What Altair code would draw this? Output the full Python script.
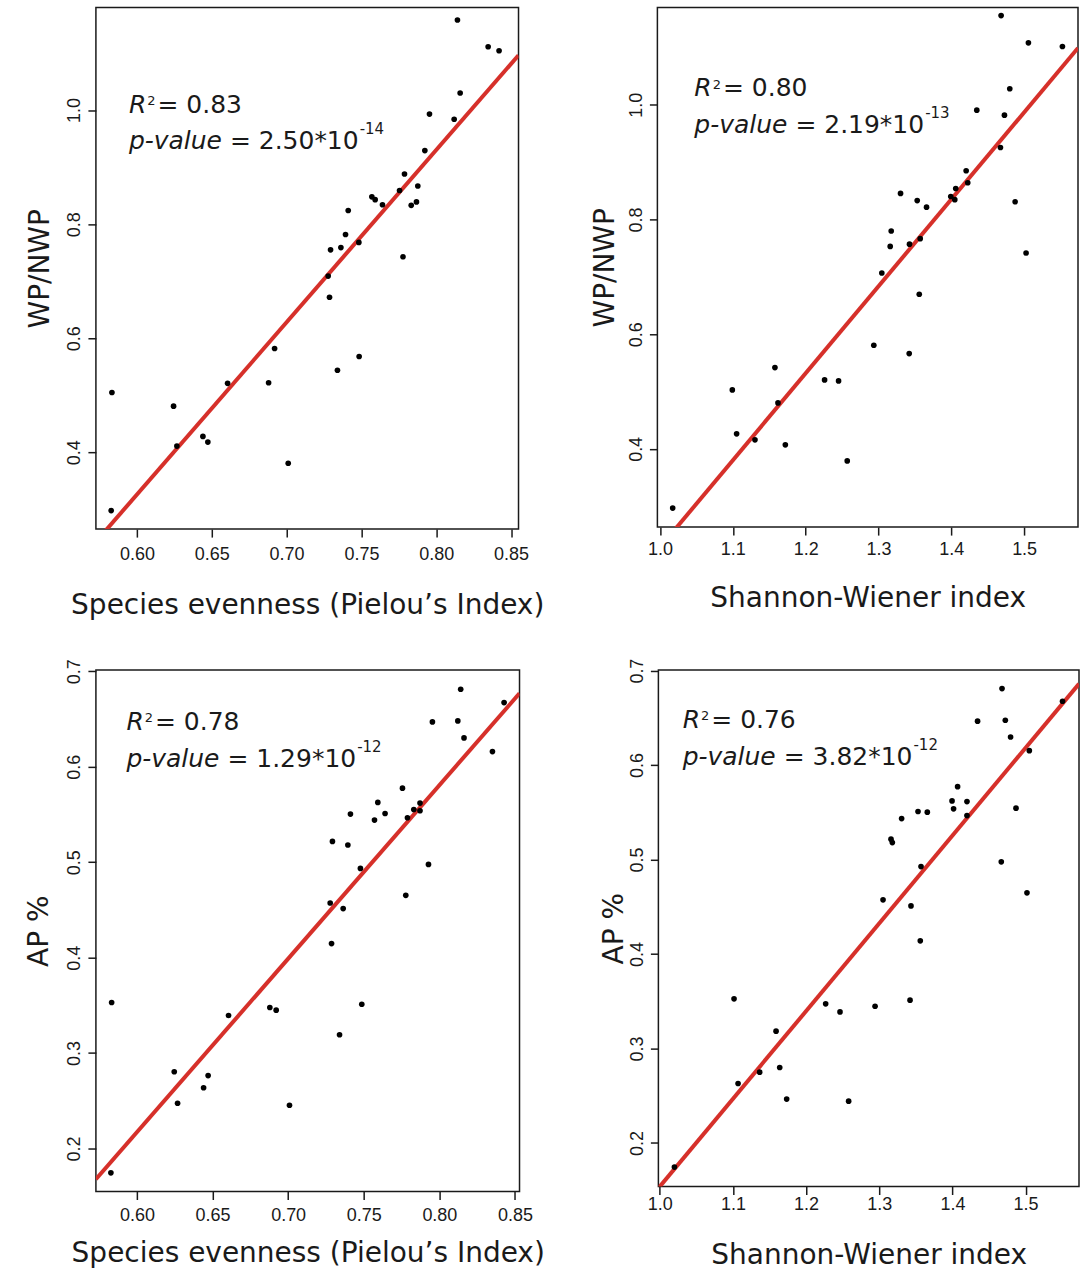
import altair as alt
import pandas as pd

# ---------------- data ----------------
# Top-left: WP/NWP vs Pielou evenness
tl_x = [0.8142, 0.8347, 0.842, 0.816, 0.7955, 0.812, 0.7924, 0.7788, 0.7877, 0.7755,
        0.757, 0.7592, 0.7641, 0.7833, 0.7868, 0.7412, 0.7394, 0.7363, 0.7294, 0.7483,
        0.7778, 0.7278, 0.7287, 0.692, 0.7485, 0.734, 0.6606, 0.688, 0.5833, 0.6245,
        0.6441, 0.6474, 0.6267, 0.7011, 0.5828]
tl_y = [1.158, 1.111, 1.104, 1.030, 0.993, 0.984, 0.929, 0.888, 0.867, 0.859,
        0.848, 0.843, 0.834, 0.833, 0.839, 0.824, 0.782, 0.759, 0.755, 0.768,
        0.743, 0.709, 0.672, 0.582, 0.568, 0.544, 0.521, 0.522, 0.505, 0.481,
        0.428, 0.418, 0.411, 0.381, 0.298]

# Top-right: WP/NWP vs Shannon-Wiener
tr_x = [1.4684, 1.5059, 1.5526, 1.4803, 1.435, 1.473, 1.4675, 1.4204, 1.4226, 1.4061,
        1.3993, 1.4048, 1.3303, 1.3532, 1.366, 1.4877, 1.3175, 1.3161, 1.3426, 1.3573,
        1.5027, 1.3046, 1.356, 1.2936, 1.3422, 1.1578, 1.226, 1.2452, 1.0993, 1.162,
        1.1052, 1.1304, 1.1721, 1.2571, 1.0174]
tr_y = [1.1556, 1.108, 1.1016, 1.0279, 0.9906, 0.9819, 0.9256, 0.885, 0.864, 0.854,
        0.840, 0.8345, 0.8455, 0.833, 0.8215, 0.831, 0.780, 0.753, 0.757, 0.7665,
        0.7415, 0.7066, 0.6696, 0.5807, 0.5662, 0.5418, 0.5202, 0.5185, 0.5028, 0.4802,
        0.4262, 0.4157, 0.407, 0.379, 0.2967]

# Bottom-left: AP % vs Pielou evenness
bl_x = [0.8141, 0.8428, 0.7954, 0.8122, 0.8163, 0.8351, 0.7756, 0.7593, 0.7872, 0.7831,
        0.7872, 0.7641, 0.7571, 0.7789, 0.7412, 0.7293, 0.7395, 0.7478, 0.7928, 0.7778,
        0.7278, 0.7364, 0.7287, 0.5833, 0.7487, 0.6606, 0.6879, 0.6921, 0.734, 0.6247,
        0.6471, 0.6441, 0.6269, 0.7009, 0.5828]
bl_y = [0.6812, 0.6672, 0.647, 0.648, 0.6302, 0.6159, 0.5776, 0.5626, 0.5619, 0.5552,
        0.5539, 0.551, 0.5441, 0.5466, 0.5504, 0.5218, 0.518, 0.4935, 0.4977, 0.4653,
        0.4573, 0.4514, 0.4147, 0.353, 0.3512, 0.3394, 0.3478, 0.345, 0.3192, 0.2805,
        0.2764, 0.2637, 0.2474, 0.2453, 0.1745]

# Bottom-right: AP % vs Shannon-Wiener
br_x = [1.4678, 1.5505, 1.4344, 1.4723, 1.4795, 1.5051, 1.4071, 1.3995, 1.4199, 1.4016,
        1.4199, 1.4869, 1.353, 1.3657, 1.3306, 1.3161, 1.3179, 1.3571, 1.4668, 1.3052,
        1.3434, 1.5019, 1.3561, 1.1016, 1.2268, 1.2464, 1.2943, 1.3421, 1.159, 1.164,
        1.1366, 1.1071, 1.1735, 1.2582, 1.0201]
br_y = [0.681, 0.6676, 0.6465, 0.6475, 0.6298, 0.6153, 0.5772, 0.5621, 0.5614, 0.5537,
        0.5466, 0.5544, 0.5509, 0.5502, 0.5434, 0.5216, 0.518, 0.4926, 0.4976, 0.4574,
        0.451, 0.4648, 0.414, 0.3526, 0.3473, 0.3388, 0.3448, 0.3512, 0.3184, 0.2799,
        0.275, 0.263, 0.2465, 0.2443, 0.1745]

# Statistics text
r2_vals = ["0.83", "0.80", "0.78", "0.76"]
p_mant = ["2.50", "2.19", "1.29", "3.82"]
p_exp = ["-14", "-13", "-12", "-12"]

# Axis ticks / titles
pielou_ticks = [0.60, 0.65, 0.70, 0.75, 0.80, 0.85]
shannon_ticks = [1.0, 1.1, 1.2, 1.3, 1.4, 1.5]
wp_ticks = [0.4, 0.6, 0.8, 1.0]
ap_ticks = [0.2, 0.3, 0.4, 0.5, 0.6, 0.7]
x_title_p = "Species evenness (Pielou\u2019s Index)"
x_title_s = "Shannon-Wiener index"
y_title_wp = "WP/NWP"
y_title_ap = "AP %"

# ---------------- styling ----------------
TICK_FONT = "Liberation Sans"
TEXT_FONT = "DejaVu Sans"
RED = "#d6302a"
INK = "#1a1a1a"
F_ANN = 25

W = {c: 0.636 for c in "0123456789"}
W.update({".": 0.318, "*": 0.5, "=": 0.838, " ": 0.318, "-": 0.361, "R": 0.695,
          "p": 0.635, "v": 0.592, "a": 0.613, "l": 0.278, "u": 0.634, "e": 0.615})


def tw(s, size):
    return sum(W.get(c, 0.6) for c in s) * size


def txt(s, x, y, size, italic=False):
    return alt.Chart(pd.DataFrame({"t": [s]})).mark_text(
        align="left", baseline="alphabetic", font=TEXT_FONT, fontSize=size,
        fontStyle="italic" if italic else "normal", color=INK
    ).encode(text="t:N", x=alt.value(x), y=alt.value(y))


def panel(xs, ys, xdom, ydom, xticks, yticks, xfmt, xtitle, ytitle, w, h,
          ann, r2, pm, pe, xlp, xtp, ytp):
    df = pd.DataFrame({"x": xs, "y": ys})
    xsc = alt.Scale(domain=xdom, nice=False, zero=False)
    ysc = alt.Scale(domain=ydom, nice=False, zero=False)
    xax = alt.Axis(values=xticks, format=xfmt, title=xtitle, labelAngle=0,
                   labelPadding=xlp, titlePadding=xtp)
    yax = alt.Axis(values=yticks, format=".1f", title=ytitle, labelAngle=-90,
                   labelAlign="center", labelBaseline="bottom",
                   labelPadding=4, titlePadding=ytp)
    enc = dict(x=alt.X("x:Q", scale=xsc, axis=xax), y=alt.Y("y:Q", scale=ysc, axis=yax))
    line = alt.Chart(df).transform_regression(
        "x", "y", extent=list(xdom)
    ).mark_line(color=RED, strokeWidth=4, clip=True).encode(**enc)
    pts = alt.Chart(df).mark_circle(size=32, color="black", opacity=1).encode(**enc)

    x0, y1, y2 = ann
    wr = tw("R", F_ANN)
    layers = [
        line, pts,
        txt("R", x0, y1, F_ANN, italic=True),
        txt("2", x0 + wr + 1, y1 - 8, 13),
        txt("= " + r2, x0 + wr + tw("2", 13) + 3, y1, F_ANN),
        txt("p-value", x0, y2, F_ANN, italic=True),
    ]
    main2 = "= " + pm + "*10"
    xm = x0 + tw("p-value ", F_ANN)
    layers.append(txt(main2, xm, y2, F_ANN))
    layers.append(txt(pe, xm + tw(main2, F_ANN) + 1, y2 - 15, 15))
    return alt.layer(*layers).properties(width=w, height=h)


tl = panel(tl_x, tl_y, (0.5726, 0.855), (0.2655, 1.1797), pielou_ticks, wp_ticks, ".2f",
           x_title_p, y_title_wp, 423, 522, (33, 106, 141.7), r2_vals[0], p_mant[0], p_exp[0],
           xlp=8, xtp=28, ytp=11)
tr = panel(tr_x, tr_y, (0.9964, 1.574), (0.2636, 1.1695), shannon_ticks, wp_ticks, ".1f",
           x_title_s, y_title_wp, 421, 520, (37, 89, 125.7), r2_vals[1], p_mant[1], p_exp[1],
           xlp=5, xtp=26, ytp=8)
bl = panel(bl_x, bl_y, (0.5729, 0.853), (0.155, 0.7014), pielou_ticks, ap_ticks, ".2f",
           x_title_p, y_title_ap, 424, 522, (30.5, 60, 97.3), r2_vals[2], p_mant[2], p_exp[2],
           xlp=7, xtp=15, ytp=12)
br = panel(br_x, br_y, (0.9982, 1.573), (0.154, 0.7007), shannon_ticks, ap_ticks, ".1f",
           x_title_s, y_title_ap, 421, 517, (24.3, 58.3, 95), r2_vals[3], p_mant[3], p_exp[3],
           xlp=1, xtp=28, ytp=0)

chart = alt.vconcat(
    alt.hconcat(tl, tr, spacing=45),
    alt.hconcat(bl, br, spacing=54),
    spacing=37,
).properties(
    padding={"left": 25, "top": 6, "right": 0, "bottom": 0},
    background="white",
).configure_view(
    stroke=INK, strokeWidth=1.5
).configure_axis(
    domain=False, grid=False, ticks=True, tickSize=8, tickWidth=1.5, tickColor=INK,
    labelFont=TICK_FONT, labelFontSize=18, labelColor=INK,
    titleFont=TEXT_FONT, titleFontSize=28, titleFontWeight="normal", titleColor=INK,
)

chart.save("out.html", embed_options={"renderer": "svg", "actions": False})
